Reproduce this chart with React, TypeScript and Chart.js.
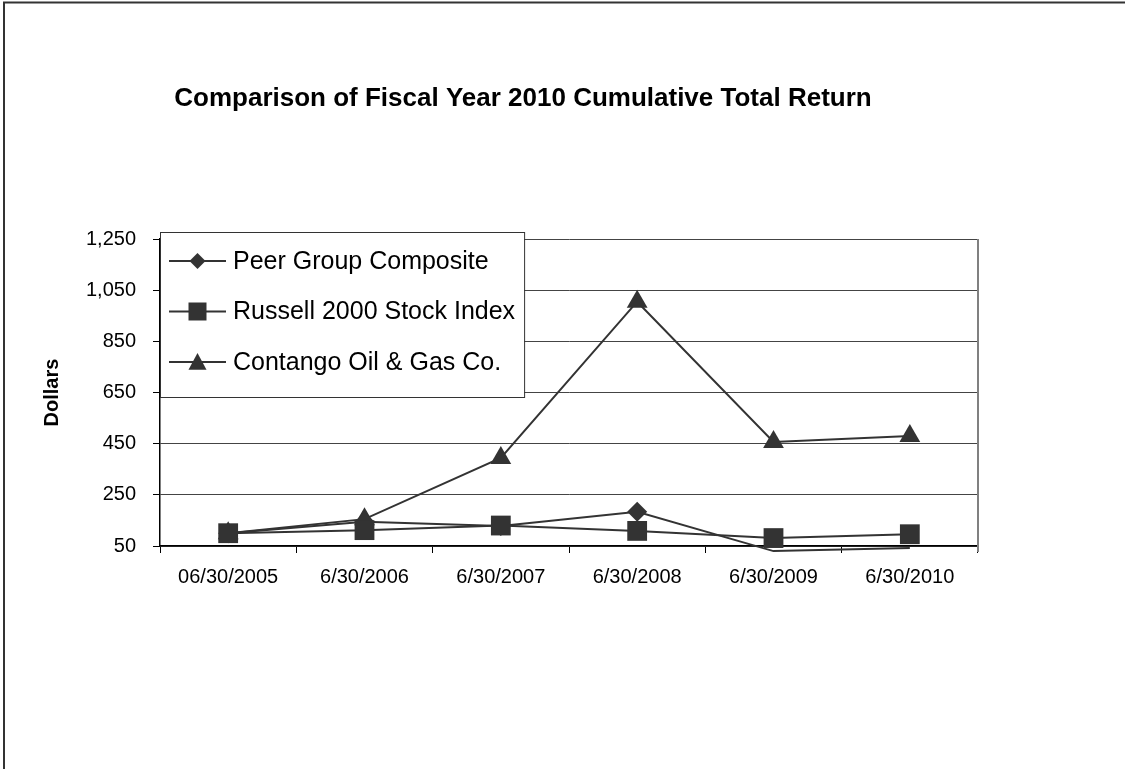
import React, { useEffect, useRef } from "react";
import { Chart, registerables } from "chart.js";

Chart.register(...registerables);

const categories = ["06/30/2005", "6/30/2006", "6/30/2007", "6/30/2008", "6/30/2009", "6/30/2010"];
const peerGroup = [100, 145, 128, 184, 30, 42];
const russell2000 = [100, 112, 130, 109, 81, 96];
const contango = [100, 155, 394, 1005, 457, 480];
const seriesNames = ["Peer Group Composite", "Russell 2000 Stock Index", "Contango Oil & Gas Co."];
const pointStyles = ["rectRot", "rect", "triangle"];
const yMin = 50;
const yMax = 1250;
const yStep = 200;
const titleText = "Comparison of Fiscal Year 2010 Cumulative Total Return";
const yAxisTitle = "Dollars";

const FONT = 'Arial, "Liberation Sans", sans-serif';
const INK = "#333333";

function drawMarker(ctx: CanvasRenderingContext2D, style: string, x: number, y: number, s: number) {
  ctx.beginPath();
  if (style === "rectRot") {
    ctx.moveTo(x, y - s * 0.8);
    ctx.lineTo(x + s * 0.8, y);
    ctx.lineTo(x, y + s * 0.8);
    ctx.lineTo(x - s * 0.8, y);
  } else if (style === "rect") {
    ctx.rect(x - s, y - s, 2 * s, 2 * s);
  } else {
    ctx.moveTo(x, y - s);
    ctx.lineTo(x + s, y + s * 0.85);
    ctx.lineTo(x - s, y + s * 0.85);
  }
  ctx.closePath();
  ctx.fill();
}

const decorPlugin = {
  id: "decor",
  beforeDraw(chart: any) {
    const ctx = chart.ctx as CanvasRenderingContext2D;
    ctx.save();
    ctx.fillStyle = "#ffffff";
    ctx.fillRect(0, 0, chart.width, chart.height);
    ctx.strokeStyle = "#333333";
    ctx.lineWidth = 2;
    ctx.beginPath();
    ctx.moveTo(4, chart.height);
    ctx.lineTo(4, 2.5);
    ctx.lineTo(chart.width, 2.5);
    ctx.stroke();
    // title
    ctx.fillStyle = "#000";
    ctx.font = `bold 26px ${FONT}`;
    ctx.textAlign = "center";
    ctx.textBaseline = "alphabetic";
    ctx.fillText(titleText, 523, 106);
    // y axis title
    const a = chart.chartArea;
    ctx.translate(52, (a.top + a.bottom) / 2);
    ctx.rotate(-Math.PI / 2);
    ctx.font = `bold 20px ${FONT}`;
    ctx.textBaseline = "middle";
    ctx.fillText(yAxisTitle, 0, 0);
    ctx.restore();
  },
  beforeDatasetsDraw(chart: any) {
    const ctx = chart.ctx as CanvasRenderingContext2D;
    const a = chart.chartArea;
    ctx.save();
    ctx.strokeStyle = "#808080";
    ctx.lineWidth = 2;
    ctx.beginPath();
    ctx.moveTo(a.right, a.top);
    ctx.lineTo(a.right, a.bottom + 6);
    ctx.stroke();
    ctx.restore();
  },
  afterDraw(chart: any) {
    const ctx = chart.ctx as CanvasRenderingContext2D;
    const a = chart.chartArea;
    ctx.save();
    ctx.font = `25px ${FONT}`;
    const textX = a.left + 73;
    let maxW = 0;
    seriesNames.forEach((n) => (maxW = Math.max(maxW, ctx.measureText(n).width)));
    const left = a.left;
    const top = a.top - 7;
    const right = textX + maxW + 9;
    const bottom = top + 165;
    ctx.fillStyle = "#ffffff";
    ctx.fillRect(left, top, right - left, bottom - top);
    ctx.strokeStyle = "#333333";
    ctx.lineWidth = 1;
    ctx.strokeRect(left + 0.5, top + 0.5, right - left, bottom - top);
    seriesNames.forEach((name, i) => {
      const y = top + 29 + i * 50.5;
      ctx.strokeStyle = INK;
      ctx.lineWidth = 2;
      ctx.beginPath();
      ctx.moveTo(a.left + 9, y);
      ctx.lineTo(a.left + 66, y);
      ctx.stroke();
      ctx.fillStyle = INK;
      drawMarker(ctx, pointStyles[i], a.left + 37.5, y, i === 0 ? 10 : 9);
      ctx.fillStyle = "#000";
      ctx.textAlign = "left";
      ctx.textBaseline = "middle";
      ctx.fillText(name, textX, y + 1);
    });
    ctx.restore();
  },
};

export default function App() {
  const ref = useRef<HTMLCanvasElement | null>(null);
  useEffect(() => {
    document.body.style.margin = "0";
    const canvas = ref.current!;
    const values = [peerGroup, russell2000, contango];
    const radii: (number | number[])[] = [
      peerGroup.map((v) => (v < yMin ? 0 : 10)),
      14,
      12,
    ];
    const orders = [1, 0, 2];
    const chart = new Chart(canvas, {
      type: "line",
      data: {
        labels: categories,
        datasets: values.map((d, i) => ({
          label: seriesNames[i],
          data: d,
          order: orders[i],
          borderColor: INK,
          backgroundColor: INK,
          pointBackgroundColor: INK,
          pointBorderColor: INK,
          pointBorderWidth: 0,
          pointStyle: pointStyles[i] as any,
          pointRadius: radii[i] as any,
          borderWidth: 2,
          tension: 0,
          fill: false,
          clip: false as any,
        })),
      },
      options: {
        animation: false,
        responsive: false,
        maintainAspectRatio: false,
        devicePixelRatio: 1,
        layout: { padding: { left: 0, top: 239, right: 147, bottom: 163 } },
        plugins: {
          legend: { display: false },
          title: { display: false },
          tooltip: { enabled: false },
        },
        scales: {
          x: {
            offset: true,
            grid: {
              offset: true,
              drawOnChartArea: false,
              drawTicks: true,
              tickLength: 7,
              tickColor: "#000",
            },
            border: { color: "#000", width: 1.5 },
            ticks: {
              font: { family: FONT, size: 20 },
              color: "#000",
              padding: 12,
              maxRotation: 0,
              autoSkip: false,
            },
            afterFit: (s: any) => {
              s.height = 60;
            },
          },
          y: {
            min: yMin,
            max: yMax,
            grid: { color: "#444", lineWidth: 1, tickLength: 7, tickColor: "#000" },
            border: { color: "#000", width: 1.5 },
            ticks: {
              stepSize: yStep,
              font: { family: FONT, size: 20 },
              color: "#000",
              padding: 17,
              callback: (v: any) => Number(v).toLocaleString("en-US"),
            },
            afterFit: (s: any) => {
              s.width = 160;
            },
          },
        },
      },
      plugins: [decorPlugin],
    });
    return () => chart.destroy();
  }, []);
  return (
    <div style={{ position: "fixed", left: 0, top: 0, width: 1125, height: 769 }}>
      <canvas ref={ref} width={1125} height={769} style={{ width: 1125, height: 769, display: "block" }} />
    </div>
  );
}
